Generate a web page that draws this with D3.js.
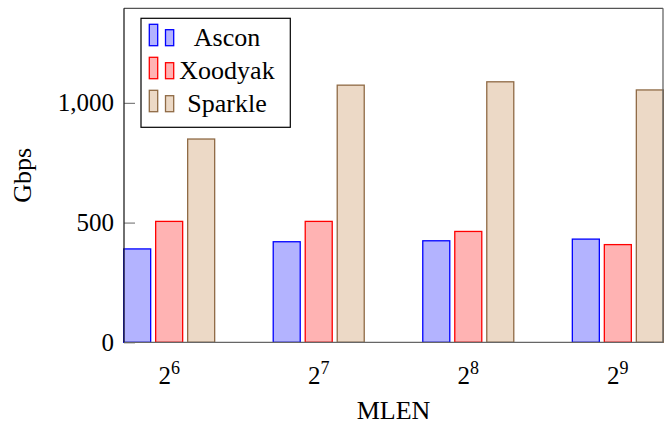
<!DOCTYPE html>
<html>
<head>
    <script src="https://d3js.org/d3.v7.min.js"></script>
    <style>
        body { margin: 0; background: #fff; }
        text { font-family: "Liberation Serif", "Times New Roman", serif; fill: #000; }
    </style>
</head>
<body>
    <div id="chart"></div>
    <script>
        // Data
        const exponents = [6, 7, 8, 9];
        const series = ["Ascon", "Xoodyak", "Sparkle"];
        const ascon = [390, 420, 424, 431];
        const xoodyak = [505, 505, 463, 408];
        const sparkle = [849, 1074, 1088, 1054];
        const yTicks = [0, 500, 1000];

        const values = [ascon, xoodyak, sparkle];
        const fills = ["#b3b3ff", "#ffb3b3", "#ecd9c6"];
        const strokes = ["#0000ff", "#ff0000", "#8f6a45"];

        const W = 669, H = 424;
        const plotL = 124, plotR = 663, plotT = 8.3, plotB = 342.3;

        const svg = d3.select("#chart").append("svg")
            .attr("width", W)
            .attr("height", H);

        const x = d3.scalePoint()
            .domain(exponents)
            .range([plotL, plotR])
            .padding(0.302);

        const xs = d3.scaleBand()
            .domain(series)
            .range([-48, 48])
            .paddingInner(0.156)
            .paddingOuter(0.078);

        const y = d3.scaleLinear()
            .domain([0, 1395])
            .range([plotB, plotT]);

        // bars
        series.forEach(function(s, si) {
            svg.append("g").selectAll("rect")
                .data(values[si])
                .enter()
                .append("rect")
                .attr("x", (d, i) => x(exponents[i]) + xs(s))
                .attr("width", xs.bandwidth())
                .attr("y", d => y(d))
                .attr("height", d => y(0) - y(d))
                .attr("fill", fills[si])
                .attr("stroke", strokes[si])
                .attr("stroke-width", 1.3);
        });

        // y axis ticks and labels
        const yAxis = svg.append("g")
            .attr("transform", `translate(${plotL},0)`)
            .call(d3.axisRight(y).tickValues(yTicks).tickSize(11).tickFormat(""));
        yAxis.select(".domain").remove();
        yAxis.selectAll(".tick line").attr("stroke", "#808080").attr("stroke-width", 1.2);

        svg.append("g").selectAll("text")
            .data(yTicks)
            .enter()
            .append("text")
            .attr("x", plotL - 10)
            .attr("y", d => y(d))
            .attr("dy", "0.34em")
            .attr("text-anchor", "end")
            .style("font-size", "25px")
            .text(d => d3.format(",")(d));

        // frame
        svg.append("line").attr("x1", plotL).attr("x2", plotR).attr("y1", plotT).attr("y2", plotT)
            .attr("stroke", "#555").attr("stroke-width", 1.3);
        svg.append("line").attr("x1", plotR).attr("x2", plotR).attr("y1", plotT).attr("y2", plotB)
            .attr("stroke", "#666").attr("stroke-width", 1.3);
        svg.append("line").attr("x1", plotL).attr("x2", plotR).attr("y1", plotB).attr("y2", plotB)
            .attr("stroke", "#666").attr("stroke-width", 1.3);
        svg.append("line").attr("x1", plotL).attr("x2", plotL).attr("y1", plotT).attr("y2", plotB)
            .attr("stroke", "#222").attr("stroke-width", 1.3);

        // x tick labels with superscripts
        const xl = svg.append("g").selectAll("text")
            .data(exponents)
            .enter()
            .append("text")
            .attr("x", d => x(d))
            .attr("y", 384)
            .attr("text-anchor", "middle")
            .style("font-size", "25px");
        xl.append("tspan").text("2");
        xl.append("tspan")
            .attr("dy", -10)
            .style("font-size", "18px")
            .text(d => d);

        // axis titles
        svg.append("text")
            .attr("x", (plotL + plotR) / 2)
            .attr("y", 419)
            .attr("text-anchor", "middle")
            .style("font-size", "26px")
            .text("MLEN");

        svg.append("text")
            .attr("transform", `translate(31,${(plotT + plotB) / 2}) rotate(-90)`)
            .attr("text-anchor", "middle")
            .style("font-size", "26px")
            .text("Gbps");

        // legend
        const legend = svg.append("g");
        legend.append("rect")
            .attr("x", 141).attr("y", 18.3)
            .attr("width", 149.3).attr("height", 109)
            .attr("fill", "#fff")
            .attr("stroke", "#000")
            .attr("stroke-width", 1.2);

        series.forEach(function(s, si) {
            const base = 45.7 + si * 33;
            const g = legend.append("g");
            g.append("rect")
                .attr("x", 149.3).attr("y", base - 21.4)
                .attr("width", 8.4).attr("height", 21.4)
                .attr("fill", fills[si]).attr("stroke", strokes[si]).attr("stroke-width", 1.3);
            g.append("rect")
                .attr("x", 165.5).attr("y", base - 16)
                .attr("width", 8.2).attr("height", 16)
                .attr("fill", fills[si]).attr("stroke", strokes[si]).attr("stroke-width", 1.3);
            g.append("text")
                .attr("x", 227)
                .attr("y", base + 0.5)
                .attr("text-anchor", "middle")
                .style("font-size", "26px")
                .text(s);
        });
    </script>
</body>
</html>
